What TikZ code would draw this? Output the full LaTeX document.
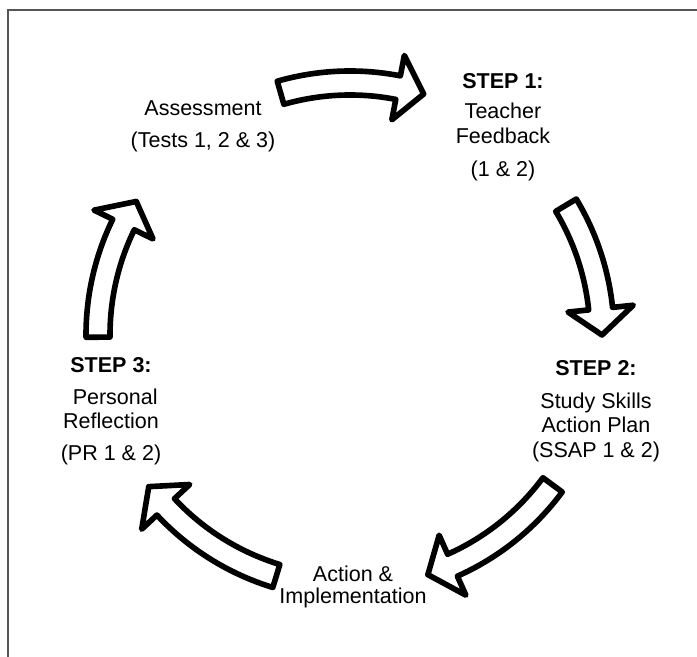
\documentclass[tikz,border=0pt]{standalone}
\usepackage{fontspec}
\setmainfont{Liberation Sans}
\usetikzlibrary{positioning}
\definecolor{frm}{HTML}{555555}
\tikzset{
  lbl/.style={font=\fontsize{15.3}{17.5}\selectfont, align=center, inner sep=0pt},
  cyc/.style={draw=black, line width=4pt, line join=round, fill=white},
}
% ring radii (cm): shaft outer/inner, head outer/inner, tip
\def\R{6.3}
\def\Ro{6.6}
\def\Ri{6.0}
\def\Rho{7.12}
\def\Rhi{5.48}

\begin{document}
\begin{tikzpicture}
\useasboundingbox (0,0) rectangle (17.425,16.425);

% ── frame ────────────────────────────────────────────────────────────────────
\draw[frm, line width=1.4pt] (0.2,0) -- (0.2,16.175) -- (17.425,16.175);

% ── stage labels ─────────────────────────────────────────────────────────────
\node[lbl] (assess) at (5.075,13.26) {Assessment\\[5pt](Tests 1, 2 \& 3)};
\node[lbl] (step1) at (12.575,13.25) {\textbf{STEP 1:}\\[4pt]Teacher\\Feedback\\[6pt](1 \& 2)};
\node[lbl] (step2) at (14.9,6.15) {\textbf{STEP 2:}\\[6pt]Study Skills\\Action Plan\\(SSAP 1 \& 2)};
\node[lbl] (act) at (8.825,1.75) {Action \&\\[-2pt]Implementation};
\node[lbl] (step3) at (2.775,6.14) {\textbf{STEP 3:}\\[5pt]\hspace{6pt}Personal\\Reflection\\[5pt](PR 1 \& 2)};

% ── cycle arrows: tail angle / head base angle / tip angle ───────────────────
\begin{scope}[shift={(8.75,8.05)}]
\foreach \ta/\tb/\tc in {106/79/73, 31/6/0, -36.5/-66/-72, -107/-137/-143, 180.5/154/148}
  \draw[cyc] (\ta:\Ro) arc[start angle=\ta, end angle=\tb, radius=\Ro]
    -- (\tb:\Rho) -- (\tc:\R) -- (\tb:\Rhi) -- (\tb:\Ri)
    arc[start angle=\tb, end angle=\ta, radius=\Ri] -- cycle;
\end{scope}

\end{tikzpicture}
\end{document}
